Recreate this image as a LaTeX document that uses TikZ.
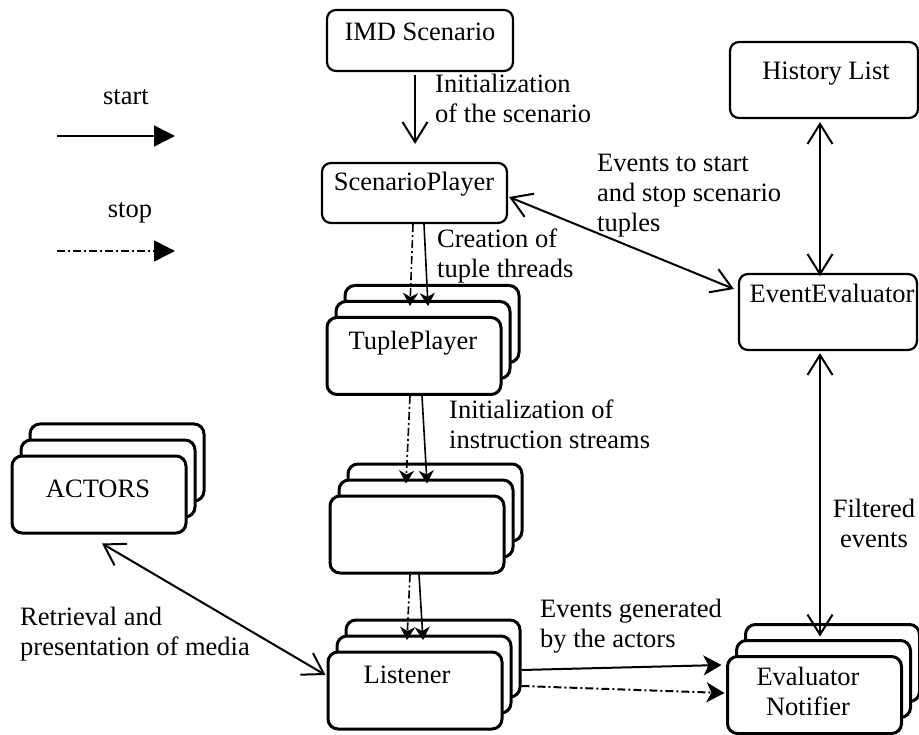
\documentclass[tikz,border=0pt]{standalone}
\usepackage{fontspec}
\setmainfont{Liberation Serif}
\usetikzlibrary{arrows.meta,calc}
\newcommand\mystack[3]{%
  \node[kbox] (#1c) at (#2+18,#3-32) {};
  \node[kbox] (#1b) at (#2+9,#3-16) {};
  \node[kbox] (#1) at (#2,#3) {};}
\begin{document}
\begin{tikzpicture}[x=1pt,y=-1pt,
  every node/.style={font=\fontsize{26.5}{30}\selectfont},
  sbox/.style={draw, rounded corners=9pt, line width=2.2pt, fill=white, inner sep=0pt},
  kbox/.style={draw, rounded corners=10pt, line width=3pt, fill=white, inner sep=0pt, minimum width=174pt, minimum height=77pt},
  lbl/.style={anchor=base west, align=left, inner sep=0pt},
  txt/.style={anchor=base, inner sep=0pt},
  conn/.style={line width=2pt},
  openarr/.style={conn, -{Straight Barb[length=20pt,width=25pt]}},
  dbl/.style={conn, {Straight Barb[length=20pt,width=25pt]}-{Straight Barb[length=20pt,width=25pt]}},
  smallarr/.style={line width=1.6pt, -{Stealth[length=13pt,width=15pt,inset=4pt]}},
  dashdot/.style={dash pattern=on 8pt off 3pt on 2pt off 3pt},
  bigarr/.style={line width=2pt, -{Stealth[length=18pt,width=20pt,inset=5pt]}},
  legarr/.style={line width=1.6pt, -{Triangle[length=21pt,width=21pt]}},
]
\useasboundingbox (0,0) rectangle (919,735);

% simple boxes
\node[sbox, minimum width=186pt, minimum height=61pt] (imd) at (420,40.5) {};
\node[sbox, minimum width=185pt, minimum height=60pt] (sp) at (414.5,193) {};
\node[sbox, minimum width=188pt, minimum height=76pt] (hl) at (824,80) {};
\node[sbox, minimum width=178pt, minimum height=76pt] (ee) at (828,312) {};

% stacked boxes
\mystack{tp}{414}{356}
\mystack{bl}{417}{534.5}
\mystack{li}{415}{690.5}
\mystack{en}{814.5}{695}
\mystack{ac}{99}{494.5}

% box texts
\node[txt] (timd) at (420,41) {IMD Scenario};
\node[txt] (tsp) at (414,191) {ScenarioPlayer};
\node[txt] (thl) at (826,80) {History List};
\node[txt] (tee) at (832,303) {EventEvaluator};
\node[txt] (ttp) at (413,350) {TuplePlayer};
\node[txt] (tli) at (407,683) {Listener};
\node[anchor=base, align=center, inner sep=0pt] (ten) at (808,715) {Evaluator\\Notifier};
\node[txt] (tac) at (98,497) {ACTORS};

% labels (base = last line)
\node[lbl] (l1) at (435,123) {Initialization\\of the scenario};
\node[lbl] (l2) at (437,278) {Creation of\\tuple threads};
\node[lbl] (l3) at (597,232) {Events to start\\and stop scenario\\tuples};
\node[lbl] (l4) at (449,448) {Initialization of\\instruction streams};
\node[lbl] (l5) at (540,647) {Events generated\\by the actors};
\node[lbl] (l6) at (20,655) {Retrieval and\\presentation of media};
\node[anchor=base, align=center, inner sep=0pt] (l7) at (874,547) {Filtered\\events};

% legend
\node[txt] (lstart) at (126,105) {start};
\node[txt] (lstop) at (130,218) {stop};
\coordinate (ls1) at (57,136); \coordinate (le1) at (175,136);
\coordinate (ls2) at (57,251); \coordinate (le2) at (175,251);
\draw[legarr] (ls1) -- (le1);
\draw[legarr,dashdot] (ls2) -- (le2);

% connectors
\draw[openarr] ([xshift=-5pt,yshift=-3pt]imd.south) -- ([xshift=0.5pt,yshift=18pt]sp.north);

\draw[smallarr,dashdot] ([xshift=-1.5pt]sp.south) -- ([xshift=-4pt,yshift=10pt]tp.north);
\draw[smallarr] ([xshift=9.5pt]sp.south) -- ([xshift=14pt,yshift=10pt]tp.north);

\draw[smallarr,dashdot] ([xshift=-4pt]tp.south) -- ([xshift=-11pt,yshift=11pt]bl.north);
\draw[smallarr] ([xshift=8pt]tp.south) -- ([xshift=10pt,yshift=11pt]bl.north);

\draw[smallarr,dashdot] ([xshift=-7pt]bl.south) -- ([xshift=-8pt,yshift=10.5pt]li.north);
\draw[smallarr] ([xshift=2pt]bl.south) -- ([xshift=8pt,yshift=10.5pt]li.north);

\draw[bigarr] ([yshift=-11.5pt]lic.east) -- ([xshift=-4.5pt,yshift=30pt]en.west);
\draw[bigarr,dashdot] ([yshift=-27.5pt]lic.east) -- ([xshift=-1.5pt,yshift=2pt]en.west);

\draw[dbl] ([xshift=3pt,yshift=-9pt]ac.south) -- ([xshift=-1pt,yshift=15.5pt]li.west);
\draw[dbl] ([xshift=1pt,yshift=-4pt]sp.east) -- ([xshift=-4pt,yshift=23pt]ee.west);
\draw[dbl] ([xshift=-4pt,yshift=-3pt]hl.south) -- ([xshift=-8pt,yshift=-3pt]ee.north);
\draw[dbl] ([xshift=-8pt,yshift=-2pt]ee.south) -- ([xshift=-12.5pt,yshift=-13.5pt]enc.north);
\end{tikzpicture}
\end{document}
